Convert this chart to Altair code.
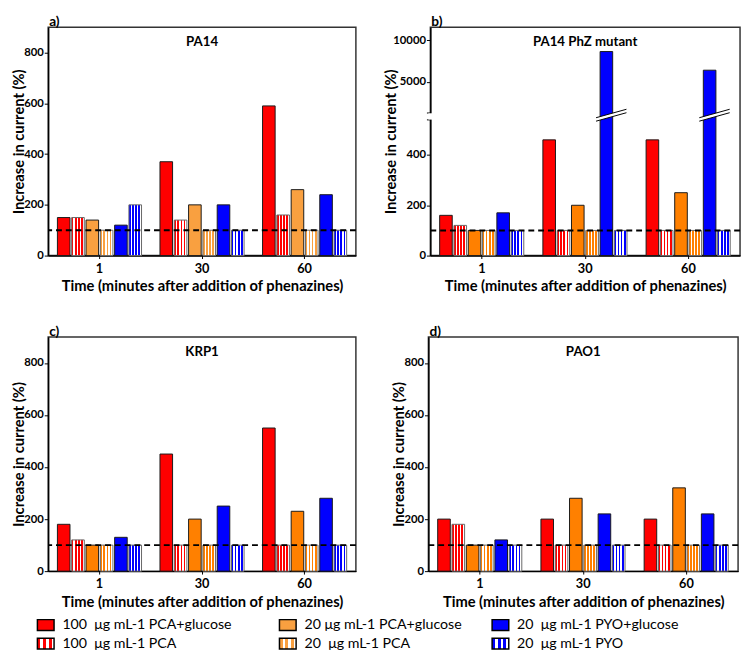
import altair as alt
import pandas as pd

# ---------------- data ----------------
times = ["1", "30", "60"]
series = ["100 PCA+glucose", "100 PCA", "20 PCA+glucose", "20 PCA", "20 PYO+glucose", "20 PYO"]
legend_labels = ["100\u00a0 μg mL-1 PCA+glucose", "100\u00a0 μg mL-1 PCA",
                 "20 μg mL-1 PCA+glucose", "20\u00a0 μg mL-1 PCA",
                 "20\u00a0 μg mL-1 PYO+glucose", "20\u00a0 μg mL-1 PYO"]
patterned = [False, True, False, True, False, True]
legend_col = [0, 0, 1, 1, 2, 2]
legend_row = [0, 1, 0, 1, 0, 1]

pa14_t1 = [150, 150, 140, 100, 120, 200]
pa14_t30 = [370, 140, 200, 100, 200, 100]
pa14_t60 = [590, 160, 260, 100, 240, 100]

phz_t1 = [160, 120, 100, 100, 170, 100]
phz_t30 = [460, 100, 200, 100, 8650, 100]
phz_t60 = [460, 100, 250, 100, 6400, 100]

krp1_t1 = [180, 120, 100, 100, 130, 100]
krp1_t30 = [450, 100, 200, 100, 250, 100]
krp1_t60 = [550, 100, 230, 100, 280, 100]

pao1_t1 = [200, 180, 100, 100, 120, 100]
pao1_t30 = [200, 100, 280, 100, 220, 100]
pao1_t60 = [200, 100, 320, 100, 220, 100]

baseline = [100]

# ---------------- style ----------------
FONT = "Lato"
RED = "#ff0000"
BLUE = "#0000ff"
ORANGE_A = "#f9a040"
ORANGE = "#ff8000"
W_L = 314
W_R = 316
BREAK_LO = 540
BREAK_HI = 1250


def checker(color, n=4, frac=0.55):
    stops = []
    for i in range(n):
        a = i / n
        m = (i + frac) / n
        b = (i + 1) / n
        stops += [alt.GradientStop(offset=a, color=color),
                  alt.GradientStop(offset=m, color=color),
                  alt.GradientStop(offset=m, color="white"),
                  alt.GradientStop(offset=b, color="white")]
    return alt.LinearGradient(gradient="linear", stops=stops, x1=0, y1=0, x2=1, y2=0)


def long_df(t1, t30, t60):
    rows = []
    for t, vals in zip(times, (t1, t30, t60)):
        for s, v in zip(series, vals):
            rows.append({"time": t, "series": s, "value": v})
    return pd.DataFrame(rows)


def panel(t1, t30, t60, name, letter, orange, width, height, broken=False, title_x=-22):
    df = long_df(t1, t30, t60)
    colors = [RED, RED, orange, orange, BLUE, BLUE]
    if broken:
        lower = 0.2567
        upper = 0.00846
        yb1 = height - BREAK_LO * lower
        yb2 = yb1 - 7
        top = BREAK_HI + yb2 / upper
        yscale = alt.Scale(domain=[0, BREAK_LO, BREAK_HI, top], range=[height, yb1, yb2, 0],
                           nice=False, zero=False)
        vals = [0, 200, 400, BREAK_LO, BREAK_HI, 5000, 10000]
        label_expr = f"datum.value == {BREAK_LO} || datum.value == {BREAK_HI} ? '' : datum.label"
    else:
        yscale = alt.Scale(domain=[0, 900], nice=False)
        vals = [0, 200, 400, 600, 800]
        label_expr = "datum.label"

    yaxis = alt.Axis(values=vals, format="d", labelExpr=label_expr,
                     title="Increase in current (%)", titleX=title_x,
                     grid=False, tickSize=4, labelPadding=1)
    xaxis = alt.Axis(title="Time (minutes after addition of phenazines)", labelAngle=0,
                     tickSize=3, labelPadding=4, titlePadding=4, grid=False)
    X = alt.X("time:N", sort=times,
              scale=alt.Scale(domain=times, paddingInner=0.18, paddingOuter=0.09), axis=xaxis)
    XO = alt.XOffset("series:N", scale=alt.Scale(domain=series, paddingInner=0.12, paddingOuter=0))
    Y = alt.Y("value:Q", scale=yscale, axis=yaxis, stack=False)

    base = alt.Chart(df)
    layers = []
    for s, c, p in zip(series, colors, patterned):
        layers.append(
            base.transform_filter(alt.FieldEqualPredicate(field="series", equal=s))
            .mark_bar(fill=checker(c) if p else c,
                      stroke="#666666" if p else "#1a1a1a", strokeWidth=1)
            .encode(x=X, xOffset=XO, y=Y)
        )
    if broken:
        brk = df[df["value"] > BREAK_LO]
        mid = (BREAK_LO + BREAK_HI) / 2
        layers.append(
            alt.Chart(brk).mark_point(
                shape="M-0.66,0.31 L1.28,-0.23 L1.28,-0.45 L-0.66,0.09 Z",
                size=1024, filled=True, fill="white", strokeWidth=0, opacity=1)
            .encode(x=X, xOffset=XO, y=alt.YDatum(mid, axis=yaxis, scale=yscale))
        )
        layers.append(
            alt.Chart(brk).mark_point(
                shape="M-0.66,0.31 L1.28,-0.23 M-0.66,0.09 L1.28,-0.45",
                size=1024, filled=False, stroke="black", strokeWidth=1, opacity=1)
            .encode(x=X, xOffset=XO, y=alt.YDatum(mid, axis=yaxis, scale=yscale))
        )
        layers.append(
            alt.Chart(pd.DataFrame({"k": [0]})).mark_rule(color="white", strokeWidth=4)
            .encode(x=alt.value(0), y=alt.YDatum(BREAK_LO + 15, axis=yaxis, scale=yscale),
                    y2=alt.datum(BREAK_HI - 40))
        )
    layers.append(
        alt.Chart(pd.DataFrame({"v": baseline})).mark_rule(color="black", strokeWidth=2,
                                                           strokeDash=[6, 4])
        .encode(y=alt.Y("v:Q", scale=yscale, axis=yaxis))
    )
    layers.append(
        alt.Chart(pd.DataFrame({"name": [name]}))
        .mark_text(font=FONT, fontWeight="bold", fontSize=13.5, baseline="middle", color="black")
        .encode(text="name:N", x=alt.value(width / 2), y=alt.value(15))
    )
    return alt.layer(*layers).properties(
        width=width, height=height,
        title=alt.TitleParams(letter, anchor="start", frame="group", dx=1, offset=-2,
                              font=FONT, fontSize=14, fontWeight="bold", color="black"),
    )


pa = panel(pa14_t1, pa14_t30, pa14_t60, "PA14", "a)", ORANGE_A, W_L, 233)
pb = panel(phz_t1, phz_t30, phz_t60, "PA14 PhZ mutant", "b)", ORANGE, W_R, 233,
           broken=True, title_x=-33)
pc = panel(krp1_t1, krp1_t30, krp1_t60, "KRP1", "c)", ORANGE, W_L, 239)
pnl_d = panel(pao1_t1, pao1_t30, pao1_t60, "PAO1", "d)", ORANGE, W_R, 239)

# ---------------- legend ----------------
leg_df = pd.DataFrame({"series": series, "label": legend_labels,
                       "col": legend_col, "row": legend_row})
leg_colors = [RED, RED, ORANGE_A, ORANGE_A, BLUE, BLUE]
LX = alt.X("col:Q", scale=alt.Scale(domain=[0, 1, 2], range=[-2.5, 244.5, 461.5]), axis=None)
LY = alt.Y("row:Q", scale=alt.Scale(domain=[0, 1], range=[0, 19]), axis=None)
RECT = "M-1,-0.65 L1,-0.65 L1,0.65 L-1,0.65 Z"
leg_base = alt.Chart(leg_df)
leg_layers = []
for s, c, p in zip(series, leg_colors, patterned):
    leg_layers.append(
        leg_base.transform_filter(alt.FieldEqualPredicate(field="series", equal=s))
        .mark_point(shape=RECT, size=289, filled=True, fill=checker(c, n=3) if p else c,
                    opacity=1, stroke="black", strokeWidth=1.5)
        .encode(x=LX, y=LY)
    )
leg_layers.append(
    leg_base.mark_text(align="left", dx=17, baseline="middle", font=FONT, fontSize=14.5,
                       color="black")
    .encode(x=LX, y=LY, text="label:N")
)
legend = alt.layer(*leg_layers).properties(width=680, height=19,
                                           view=alt.ViewBackground(strokeWidth=0))

row1 = alt.hconcat(pa, pb, spacing=25)
row2 = alt.hconcat(pc, pnl_d, spacing=34)
panels = alt.vconcat(row1, row2, spacing=30)
chart = alt.vconcat(panels, legend, spacing=6).properties(
    padding={"left": 3, "top": 0, "right": 0, "bottom": 0})

chart = (
    chart.configure_view(stroke="#333333", strokeWidth=1.5)
    .configure_axis(labelFont=FONT, labelFontWeight="bold", labelFontSize=11.5, labelColor="black",
                    titleFont=FONT, titleFontWeight="bold", titleFontSize=15, titleColor="black",
                    domainColor="black", domainWidth=1.5, tickColor="black", tickWidth=1)
    .configure_axisX(labelFontSize=13)
    .configure_axisY(titleFontSize=15)
)

chart.save("out.html", embed_options={"renderer": "svg", "actions": False})
